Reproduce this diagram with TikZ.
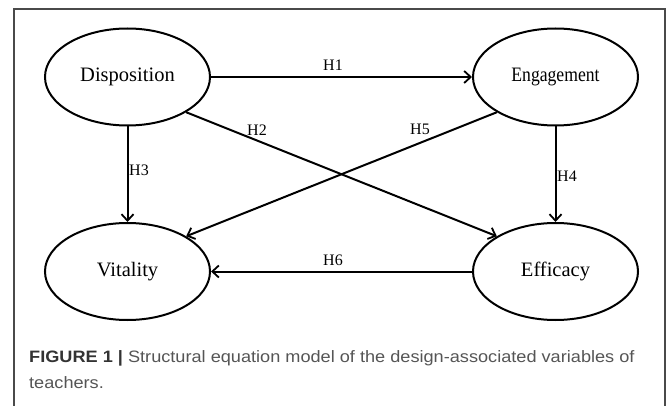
\documentclass[tikz,border=0pt]{standalone}
\usepackage{fontspec}
\setmainfont{Liberation Serif}
\newfontfamily\capfont{Liberation Sans}
\usetikzlibrary{shapes.geometric,arrows.meta}
\definecolor{framegray}{HTML}{4A4A4A}
\definecolor{captxt}{HTML}{555555}
\definecolor{capbold}{HTML}{333333}
\tikzset{
  latent/.style={ellipse, draw, line width=2pt, minimum width=165pt, minimum height=97pt, inner sep=0pt, font=\fontsize{20.5}{24}\selectfont},
  path/.style={line width=2pt, -{Straight Barb[length=6.5pt,width=12pt,line width=1.8pt]}},
  hlab/.style={font=\fontsize{16}{18}\selectfont, inner sep=0pt},
  captext/.style={anchor=base west, inner sep=0pt, font=\capfont\fontsize{16.5}{18}\selectfont, text=captxt}
}
\begin{document}
\begin{tikzpicture}[x=1pt,y=-1pt]
\useasboundingbox (0,0) rectangle (669,406);
% frame
\draw[framegray, line width=1.3pt] (14,420) -- (14,9) -- (665,9) -- (665,420);
% latent variables
\node[latent] (disp) at (127.5,77) {Disposition};
\node[latent] (eng) at (555.5,77) {\scalebox{0.86}[1]{Engagement}};
\node[latent] (vit) at (127.5,271.5) {Vitality};
\node[latent] (eff) at (555.5,271.5) {Efficacy};
% paths
\draw[path] (disp.east) -- (eng.west);
\draw[path] (disp.-31) -- (eff.149);
\draw[path] (disp.south) -- (vit.north);
\draw[path] (eng.south) -- (eff.north);
\draw[path] (eng.211) -- (vit.31);
\draw[path] (eff.west) -- (vit.east);
% labels
\node[hlab] (h1) at (333,65) {H1};
\node[hlab] (h2) at (257,130) {H2};
\node[hlab] (h3) at (139,170) {H3};
\node[hlab] (h4) at (567,176) {H4};
\node[hlab] (h5) at (420,129) {H5};
\node[hlab] (h6) at (333,260) {H6};
% caption
\node[captext] (cap1) at (29,362) {\scalebox{1.1}[1]{{\bfseries\color{capbold}FIGURE 1 |} Structural equation model of the design-associated variables of}};
\node[captext] (cap2) at (29,388) {\scalebox{1.1}[1]{teachers.}};
\end{tikzpicture}
\end{document}
